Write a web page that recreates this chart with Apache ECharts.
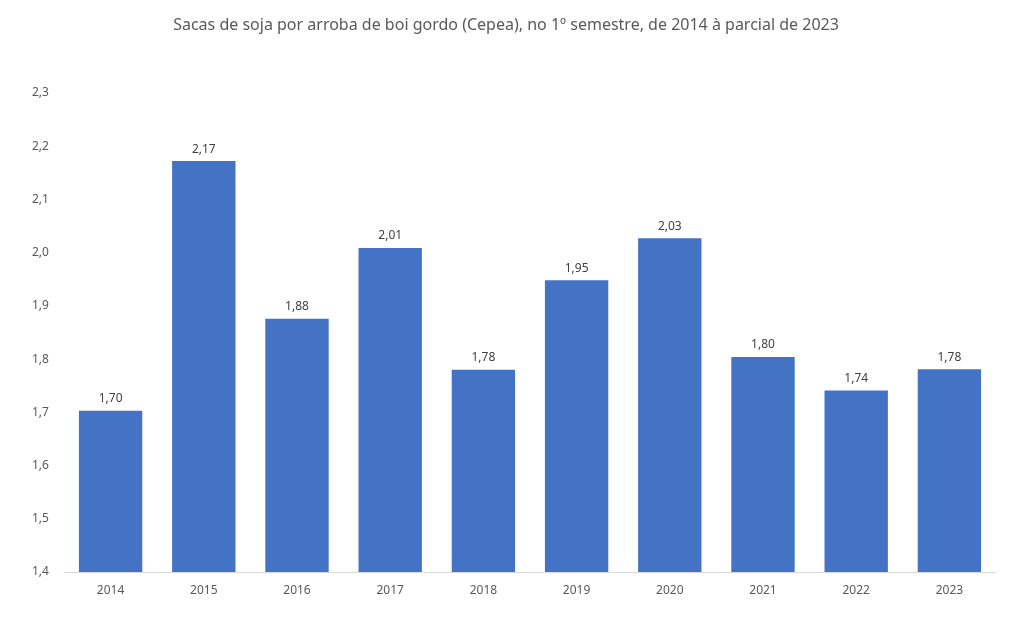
<!DOCTYPE html>
<html>
<head>
<meta charset="utf-8">
<script src="https://cdn.jsdelivr.net/npm/echarts@6/dist/echarts.min.js"></script>
<style>
	html, body { margin: 0; padding: 0; background: #fff; }
	#chart { width: 1012px; height: 630px; }
</style>
</head>
<body>
<div id="chart"></div>
<script>
	const anos = ['2014', '2015', '2016', '2017', '2018', '2019', '2020', '2021', '2022', '2023']
	const sacasPorArroba = [1.703, 2.172, 1.876, 2.009, 1.780, 1.948, 2.027, 1.804, 1.741, 1.781]

	const chart = echarts.init(document.getElementById('chart'))
	const fmt = v => v.toFixed(1).replace('.', ',')

	const option = {
		animation: false,
		title: {
			text: 'Sacas de soja por arroba de boi gordo (Cepea), no 1º semestre, de 2014 à parcial de 2023',
			left: 'center',
			top: 12,
			textStyle: {
				color: '#595959',
				fontFamily: 'Noto Sans',
				fontSize: 16,
				fontWeight: 'normal'
			}
		},
		grid: {
			left: 64,
			right: 16,
			top: 93,
			bottom: 58
		},
		xAxis: {
			type: 'category',
			data: anos,
			axisLine: { lineStyle: { color: '#d9d9d9' } },
			axisTick: { show: false },
			axisLabel: {
				color: '#595959',
				fontFamily: 'Noto Sans',
				fontSize: 12,
				margin: 13
			}
		},
		yAxis: {
			type: 'value',
			min: 1.4,
			max: 2.3,
			interval: 0.1,
			axisLine: { show: false },
			axisTick: { show: false },
			splitLine: { show: false },
			axisLabel: {
				color: '#595959',
				fontFamily: 'Noto Sans',
				fontSize: 12,
				align: 'left',
				margin: 32,
				formatter: fmt
			}
		},
		series: [{
			type: 'bar',
			data: sacasPorArroba,
			barCategoryGap: '32%',
			itemStyle: { color: '#4472C4' },
			label: {
				show: true,
				position: 'top',
				distance: 6,
				color: '#404040',
				fontFamily: 'Noto Sans',
				fontSize: 12,
				formatter: p => p.value.toFixed(2).replace('.', ',')
			}
		}]
	}
	chart.setOption(option)
</script>
</body>
</html>
